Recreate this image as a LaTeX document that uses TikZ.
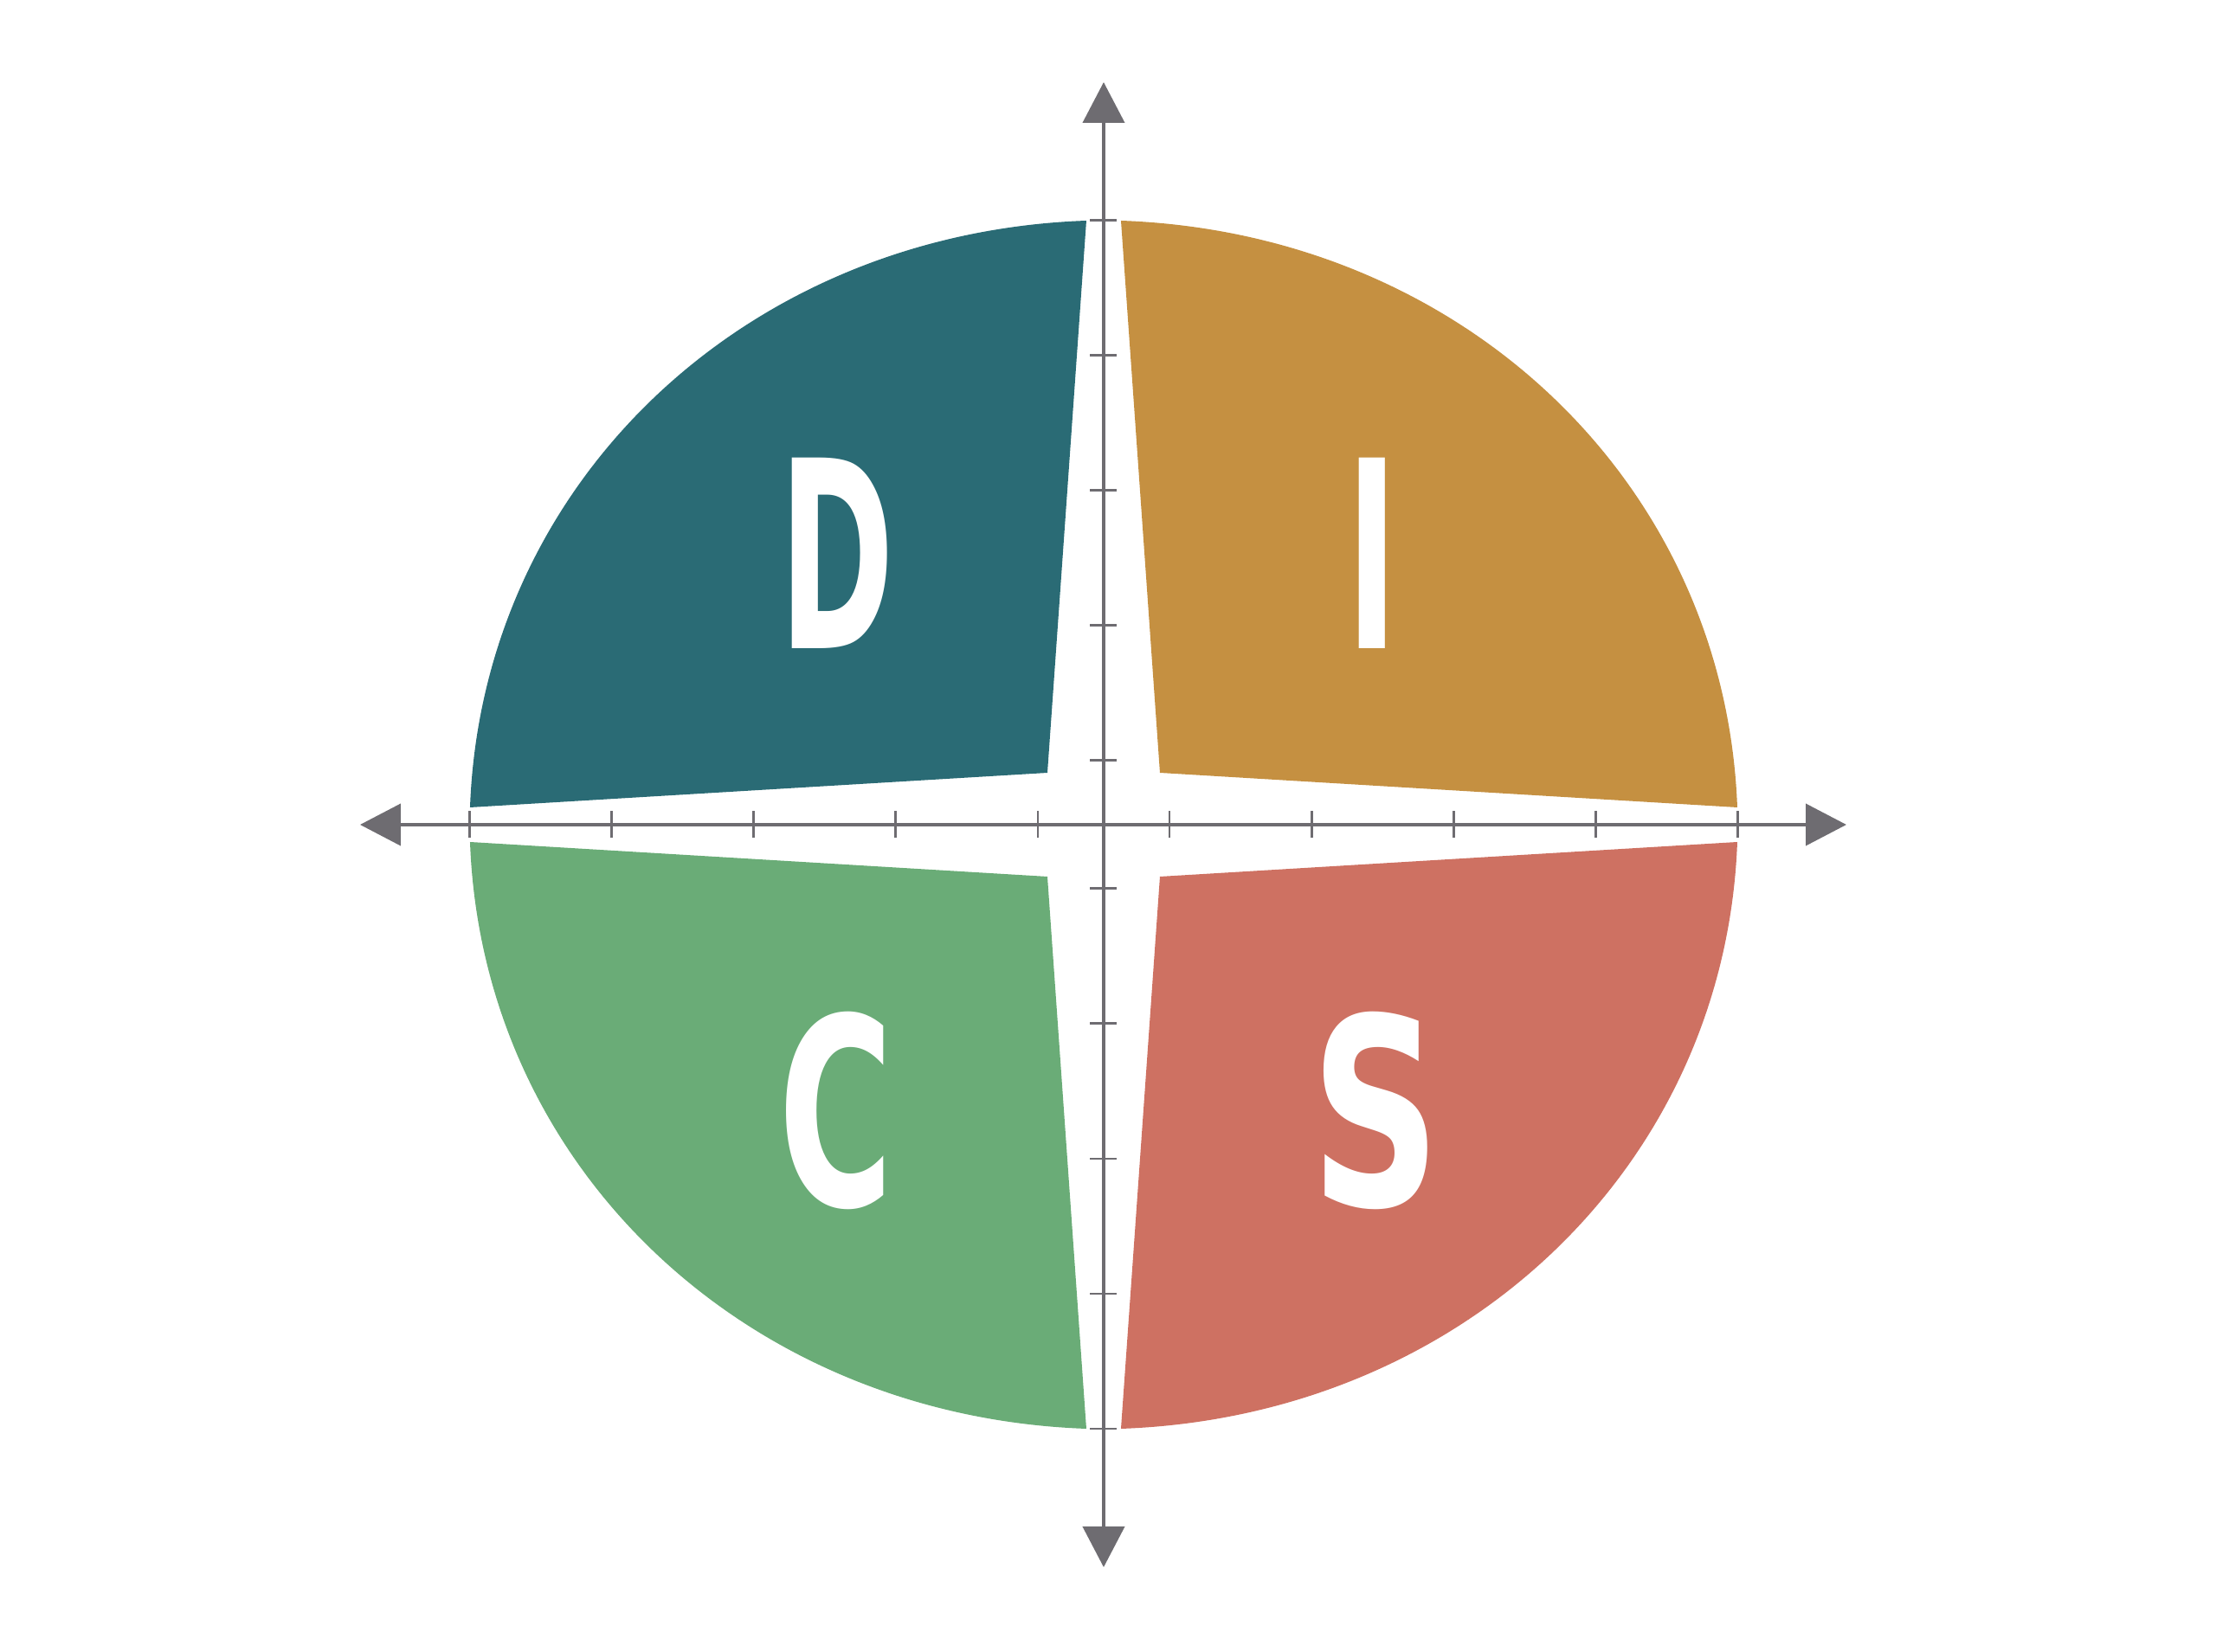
\documentclass[tikz,border=0pt]{standalone}
\usepackage{fontspec}
\setmainfont{DejaVu Sans}
\usetikzlibrary{arrows.meta}
\definecolor{colD}{RGB}{42,107,117}
\definecolor{colI}{RGB}{197,144,65}
\definecolor{colC}{RGB}{106,172,119}
\definecolor{colS}{RGB}{206,113,98}
\definecolor{axisgray}{RGB}{110,108,113}
\begin{document}
\begin{tikzpicture}[letter/.style={text=white,font=\bfseries\fontsize{86}{86}\selectfont,inner sep=0pt,xscale=0.53},axis/.style={draw=axisgray,line width=1.15pt,-{Triangle[length=4.7mm,width=4.8mm]}},tick/.style={draw=axisgray,line width=0.85pt}]
\def\ox{7.32};
\def\oy{0.2};
\def\tx{0.2};
\def\ty{6.98};
\def\ix{0.65};
\def\iy{0.6};
\def\cax{7.18};
\def\cay{3.95};
\def\cbx{4.14};
\def\cby{6.84};
\def\tl{0.155};

\useasboundingbox (-12.75,-9.56) rectangle (12.85,9.53);

% quadrants
\fill[colD] (-\ox,\oy) .. controls (-\cax,\cay) and (-\cbx,\cby) .. (-\tx,\ty) -- (-\ix,\iy) -- cycle;
\fill[colI] (\ox,\oy) .. controls (\cax,\cay) and (\cbx,\cby) .. (\tx,\ty) -- (\ix,\iy) -- cycle;
\fill[colC] (-\ox,-\oy) .. controls (-\cax,-\cay) and (-\cbx,-\cby) .. (-\tx,-\ty) -- (-\ix,-\iy) -- cycle;
\fill[colS] (\ox,-\oy) .. controls (\cax,-\cay) and (\cbx,-\cby) .. (\tx,-\ty) -- (\ix,-\iy) -- cycle;

\node[letter] (D) at (-3.08,3.14) {D};
\node[letter] (I) at (3.10,3.14) {I};
\node[letter,xscale=1.13] (C) at (-3.09,-3.30) {C};
\node[letter,xscale=1.3] (S) at (3.14,-3.30) {S};

% axes
\coordinate (O) at (0,0);
\coordinate (xL) at (-8.59,0);
\coordinate (xR) at (8.58,0);
\coordinate (yT) at (0,8.58);
\coordinate (yB) at (0,-8.58);
\draw[axis] (O) -- (xL);
\draw[axis] (O) -- (xR);
\draw[axis] (O) -- (yT);
\draw[axis] (O) -- (yB);
\foreach \k in {0,...,4} {
  \draw[tick] ({0.76+1.642*\k},-\tl) -- ({0.76+1.642*\k},\tl);
  \draw[tick] ({-0.76-1.642*\k},-\tl) -- ({-0.76-1.642*\k},\tl);
  \draw[tick] (-\tl,{0.74+1.56*\k}) -- (\tl,{0.74+1.56*\k});
  \draw[tick] (-\tl,{-0.74-1.56*\k}) -- (\tl,{-0.74-1.56*\k});
}
\end{tikzpicture}
\end{document}
